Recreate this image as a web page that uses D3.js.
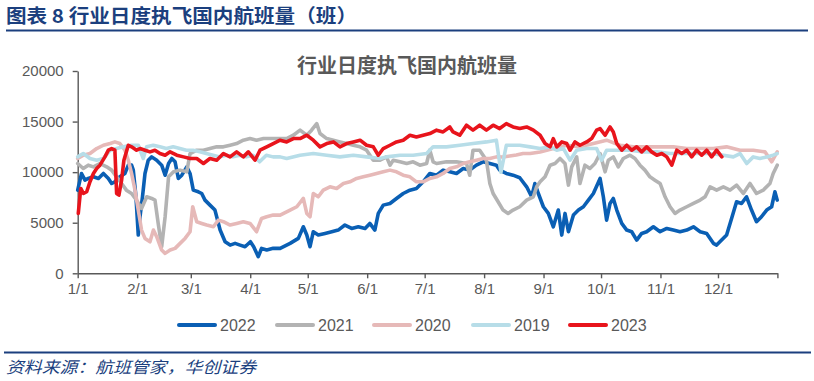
<!DOCTYPE html>
<html><head><meta charset="utf-8">
<script src="https://cdn.jsdelivr.net/npm/d3@7"></script>
<style>
html,body{margin:0;padding:0;background:#fff;}
svg{display:block;}
</style></head>
<body><svg id="c" width="814" height="381"></svg>
<script>
// ---- data (day of year, flights) ----
const monthDays = [0,31,59,90,120,151,181,212,243,273,304,334,365];
const monthLabels = ["1/1","2/1","3/1","4/1","5/1","6/1","7/1","8/1","9/1","10/1","11/1","12/1",""];
const yTicks = [0,5000,10000,15000,20000];
const seriesNames = ["2022","2021","2020","2019","2023"];
const seriesColors = ["#0a5fb4","#b3b3b3","#e6b9b8","#b7dde8","#e8141c"];

const s2022 = [[0,8220],[2,9870],[3.8,9210],[5.5,9375],[8.2,9540],[10.8,9375],[13.4,9870],[16,9375],[17.7,8880],[19.4,9045],[22,9540],[24.6,9870],[26.4,10690],[28.1,10690],[29,10200],[30.4,7565],[31.6,3780],[32.5,5590],[33.8,7565],[35.1,9870],[36.8,11180],[38.6,11510],[41.2,11180],[43.8,10690],[45.6,9700],[47.4,10855],[49.1,11350],[50.8,11020],[52.5,9375],[54.3,9700],[56.9,10525],[58.6,9870],[60.3,8220],[62.9,8060],[64.7,7890],[66.4,7235],[69,6740],[71.6,6250],[74.3,4274],[76.9,3120],[79.5,2790],[82.1,2960],[84.7,2790],[87.3,2630],[90.1,3120],[91.8,2630],[94.2,1640],[95.9,2465],[98.6,2300],[102,2465],[105.6,2465],[110.8,2960],[115.1,3450],[117.7,4600],[119.5,3780],[121.2,2630],[122.9,4110],[125.5,3780],[129,3940],[132.5,4110],[135.9,4274],[139.4,4770],[142.9,4435],[146.4,4600],[149.9,4435],[152.4,4930],[155,4274],[156.8,5920],[159.4,6740],[162.9,6905],[166.3,7400],[169.8,7890],[173.3,8220],[176.7,8390],[180.2,9045],[183.7,9870],[187.2,9700],[190.6,10200],[194.1,10030],[197.6,9870],[201.1,10360],[204.5,10200],[208,10690],[211.5,11020],[215,10855],[218.4,10690],[220.1,10200],[223.6,9870],[227.1,9700],[230.6,9450],[234.2,8550],[236.8,7565],[238.5,8880],[240.3,7890],[242.9,6580],[245.5,5920],[248.1,4600],[250.7,6250],[252.5,3780],[254.2,5920],[256,4110],[258.6,5755],[261.2,6250],[263.8,6580],[266.4,7235],[269,7890],[272.5,9375],[274.2,7565],[275.9,5260],[277.7,6905],[279.4,7400],[281.2,6250],[283.8,4930],[286.4,4274],[289,4110],[291.6,3287],[294.2,3940],[296.8,4110],[300.3,4600],[303.8,4110],[307.3,4435],[310.7,4274],[314.2,4110],[317.7,4274],[321.2,4600],[324.7,4110],[328.1,3940],[331.6,2960],[333.3,2790],[335.9,3287],[338.5,3780],[341.1,5425],[343.7,7070],[346.3,6905],[348.9,7565],[351.5,6250],[354.1,5100],[356.7,5590],[359.4,6250],[362,6580],[363.7,8060],[364.9,7235]];

const s2021 = [[0,10855],[2.9,10360],[5.5,10690],[8.2,10525],[11.6,10855],[15.1,10525],[17.7,10200],[20.3,9540],[22.9,8880],[25.4,8220],[28.1,7890],[30.7,7235],[33.3,6410],[36,7565],[38.6,7400],[40.3,7235],[42,4930],[43.8,2630],[45.6,5590],[47.4,9540],[50,10030],[53.4,10200],[56.9,10030],[58.6,11840],[62.1,12170],[65.6,12170],[69,12335],[72.5,12500],[76,12500],[79.5,12660],[82.9,12830],[86.4,13160],[89.9,13320],[93.3,13160],[96.9,13320],[100.3,13320],[105.6,13320],[109,13320],[112.5,13650],[116,14150],[119.5,13650],[122,14150],[124.7,14800],[126.4,13815],[129.9,13320],[133.4,13160],[136.8,12990],[140.3,12830],[143.8,12660],[147.3,12500],[150.7,12170],[154.2,11180],[157.7,11180],[161.1,11510],[162.9,10690],[164.6,11180],[168.1,11020],[171.6,10855],[175,11020],[178.5,10690],[182,10855],[183.7,12170],[185.4,11020],[187.2,10855],[192.4,11020],[197.6,11020],[202.8,10855],[204.5,9700],[206.2,12170],[209.7,12170],[213.2,11180],[215,8880],[216.7,7890],[219.3,7070],[221.9,6250],[224.5,5920],[227.1,6250],[230.6,6580],[234.2,7235],[237.7,7565],[239.4,8550],[241.2,9045],[243.8,9540],[246.4,10690],[249,10855],[251.6,11350],[254.2,10855],[256,8720],[257.7,10525],[260.3,11510],[262,8880],[264.6,10690],[267.2,10360],[269.8,10855],[272.5,11840],[275.1,10030],[276.8,11180],[279.4,11510],[282,10525],[284.6,11350],[288.1,11675],[290.7,11350],[293.3,10690],[295.9,10200],[298.5,9540],[301.1,9210],[303.8,8880],[306.4,7565],[309,6580],[311.6,5920],[314.2,6250],[317.7,6580],[321.2,6905],[324.7,7235],[327.3,7565],[329.9,8550],[333.3,8220],[336.8,8550],[340.3,8220],[343.7,8720],[347.2,7890],[350.7,8880],[354.1,7890],[357.6,8220],[361.1,8880],[362.8,9870],[364.9,10690]];

const s2020 = [[0,11350],[2.9,11675],[6.4,11840],[9.9,12335],[13.4,12660],[16.9,12830],[19.4,12990],[22,12830],[24.6,12170],[26.4,11180],[28.1,9870],[29.9,8220],[31.6,6250],[33.3,4274],[35.1,3450],[37.7,3120],[39.5,4274],[41.2,3616],[43.8,2300],[45.6,1970],[48.2,2300],[50.8,2465],[53.4,2960],[56,3450],[58.6,4110],[60,6580],[62.1,5100],[64.7,4930],[67.3,4770],[70.8,4600],[73.4,5260],[76,5100],[79.5,4770],[82.9,4930],[86.4,5100],[89.9,4930],[93.3,4110],[95.9,5425],[98.6,5590],[102,5755],[105.6,5755],[110.8,6250],[114.3,6580],[117.7,7400],[119.5,5920],[121.2,5590],[122.9,7890],[125.5,7565],[128.1,8220],[131.6,8550],[135.1,8390],[138.6,8880],[142,9045],[145.5,9375],[149,9540],[152.4,9700],[155.9,9870],[159.4,10030],[162.9,10200],[166.3,10030],[169.8,9700],[173.3,9540],[176.7,9045],[180.2,9045],[183.7,9375],[187.2,9540],[190.6,9870],[194.1,10360],[197.6,10525],[201.1,10855],[204.5,11020],[208,11180],[211.5,11350],[215,11350],[218.4,11510],[221.9,11500],[225.3,11600],[228.8,11700],[232.3,11840],[236,11840],[241.2,12000],[248.1,12330],[255.1,12660],[262,12500],[269,12830],[275.9,13160],[282.9,12660],[289.9,12500],[296.8,12500],[303.8,12500],[310.7,12500],[317.7,12335],[324.7,12335],[331.6,12335],[338.5,12500],[345.5,12170],[352.4,12170],[358.5,12005],[362,11020],[364.9,12005]];

const s2019 = [[0,11510],[2.9,11840],[6.4,11350],[9.9,11180],[13.4,11350],[16.9,12170],[20.3,12335],[23.8,12500],[28.1,12660],[31.6,12660],[34.2,11350],[35.9,12500],[39.4,12660],[42.9,12500],[46.3,12335],[49.8,12500],[53.3,12335],[56.7,12170],[60.2,12170],[63.7,12005],[67.1,11840],[70.6,11675],[74.1,11510],[77.6,11675],[81,11510],[84.5,11675],[88,11510],[91.5,11675],[94.9,11020],[98.4,11675],[101.9,11510],[105.6,11510],[109,11350],[116,11675],[122.9,11840],[129.9,11675],[136.8,11510],[143.8,11675],[150.7,11510],[157.7,11350],[161.1,11510],[168.1,11675],[175,11675],[182,11840],[185.4,12500],[192.4,12500],[199.3,12660],[206.2,12830],[213.2,12990],[218.4,13160],[220.8,10000],[223.6,12660],[230.6,12660],[236,12500],[241.2,12335],[246.4,12500],[249.9,12170],[253.4,12335],[256.8,11180],[260.3,12170],[265.5,12335],[270.7,12335],[273.3,11180],[275.9,12170],[281.2,12170],[288.1,12170],[295.1,12005],[302.1,12005],[309,11840],[316,11840],[322.9,11840],[329.9,11840],[336.8,11675],[342,11510],[345.5,11840],[349,10855],[352.4,11510],[355.9,11350],[359.4,11510],[362.8,11675],[364.9,11840]];

const s2023 = [[0.3,5920],[1.6,8390],[3,7890],[4.7,8060],[6.4,9045],[8.2,9870],[9.9,10360],[11.6,10690],[14.2,11510],[16,12170],[17.7,12335],[19.4,12170],[20.3,7890],[21.5,7730],[22.9,9210],[24.1,11180],[26.4,12660],[28.1,12500],[30.7,12170],[32.5,12335],[35.1,12170],[37.7,12005],[40.3,12170],[42.9,11840],[45.6,11675],[48.2,12005],[51.7,11675],[55.2,11510],[58.6,11350],[62.1,11350],[65.6,10855],[69,11350],[72.5,11180],[76,11840],[79.5,11510],[82.9,12005],[86.4,11510],[89,12005],[92.5,11180],[95.1,12170],[98.6,12500],[102,12830],[105.6,13160],[109,12990],[112.5,13320],[116,13320],[119.5,13650],[122.9,13160],[126.4,12500],[129.9,12830],[133.4,12990],[136.8,12500],[140.3,12830],[143.8,12990],[147.3,13160],[150.7,12660],[154.2,12500],[156.8,11675],[159.4,12335],[162.9,12660],[166.3,12990],[169.8,13160],[173.3,13650],[176.7,13485],[180.2,13650],[183.7,13815],[187.2,14150],[190.6,13980],[194.1,14470],[195.8,13980],[199.3,13650],[202.8,14640],[206.2,14150],[209.7,14640],[213.2,14150],[216.7,14640],[220.1,14310],[223.6,14800],[227.1,14470],[230.6,14310],[234.2,14470],[237.7,14150],[241.2,13650],[243.8,12830],[246.4,12500],[248.1,13320],[249.9,12500],[252.5,12990],[255.1,12830],[256.8,12170],[259.4,12990],[262,12660],[265.5,12990],[268.1,13320],[270.7,14150],[272.5,14310],[275.1,13650],[277.7,14470],[279.4,13980],[281.2,12830],[283.8,12170],[286.4,12660],[289,12170],[291.6,12500],[294.2,12005],[296.8,12500],[299.4,12005],[302.1,11675],[304.7,11840],[307.3,11510],[309.9,10690],[312.5,12170],[315.1,11840],[317.7,12170],[320.3,11510],[322.9,12170],[325.5,11675],[328.1,12170],[330.7,11510],[333.3,12170],[336,11510]];

const seriesData = [s2022, s2021, s2020, s2019, s2023];

// ---- drawing ----
const svg = d3.select("#c");
const navy = "#1b3f7e";
const textGray = "#595959";

svg.append("rect").attr("width",814).attr("height",381).attr("fill","#fff");

// header
svg.append("text").attr("x",6).attr("y",23)
  .attr("font-family","'Noto Sans CJK SC', sans-serif").attr("font-weight","bold")
  .attr("font-size",19).attr("fill",navy)
  .attr("textLength",351).attr("lengthAdjust","spacingAndGlyphs")
  .text("图表 8  行业日度执飞国内航班量（班）");
svg.append("line").attr("x1",6).attr("x2",808).attr("y1",30.5).attr("y2",30.5)
  .attr("stroke",navy).attr("stroke-width",1.8);

// chart title
svg.append("text").attr("x",407).attr("y",73).attr("text-anchor","middle")
  .attr("font-family","'Noto Sans CJK SC', sans-serif").attr("font-weight","bold")
  .attr("font-size",20).attr("fill",textGray)
  .text("行业日度执飞国内航班量");

const x = d3.scaleLinear().domain([0,365]).range([77.7,777.4]);
const y = d3.scaleLinear().domain([0,20000]).range([273.3,71]);

const yAxis = svg.append("g").attr("transform","translate(77.7,0)")
  .call(d3.axisLeft(y).tickValues(yTicks).tickSize(5).tickSizeOuter(0).tickPadding(9).tickFormat(d3.format("d")));
const xAxis = svg.append("g").attr("transform","translate(0,273.3)")
  .call(d3.axisBottom(x).tickValues(monthDays).tickSize(5).tickSizeOuter(0).tickPadding(5)
    .tickFormat((d,i)=>monthLabels[i]));
[yAxis,xAxis].forEach(g=>{
  g.select(".domain").attr("stroke",textGray).attr("stroke-width",1.4);
  g.selectAll(".tick line").attr("stroke",textGray).attr("stroke-width",1.4);
  g.selectAll(".tick text").attr("fill",textGray)
    .attr("font-family","'Liberation Sans', Arial, sans-serif").attr("font-size",15);
});

const line = d3.line().x(d=>x(d[0])).y(d=>y(d[1]));
seriesData.forEach((s,i)=>{
  svg.append("path").datum(s).attr("d",line)
    .attr("fill","none").attr("stroke",seriesColors[i])
    .attr("stroke-width",3.6).attr("stroke-linejoin","round").attr("stroke-linecap","round");
});

// legend
const legX = [177,275,372,471,568];
seriesNames.forEach((n,i)=>{
  svg.append("line").attr("x1",legX[i]+2).attr("x2",legX[i]+38).attr("y1",325).attr("y2",325)
    .attr("stroke",seriesColors[i]).attr("stroke-width",4).attr("stroke-linecap","round");
  svg.append("text").attr("x",legX[i]+43).attr("y",330.8)
    .attr("font-family","'Liberation Sans', Arial, sans-serif").attr("font-size",16)
    .attr("fill",textGray).text(n);
});

// footer
svg.append("line").attr("x1",4).attr("x2",811).attr("y1",352.5).attr("y2",352.5)
  .attr("stroke",navy).attr("stroke-width",1.8);
svg.append("text").attr("x",6).attr("y",373)
  .attr("font-family","'Noto Sans CJK SC', sans-serif").attr("font-style","italic")
  .attr("font-size",16).attr("fill",navy)
  .attr("textLength",250).attr("lengthAdjust","spacingAndGlyphs")
  .text("资料来源：航班管家，华创证券");
</script></body></html>
